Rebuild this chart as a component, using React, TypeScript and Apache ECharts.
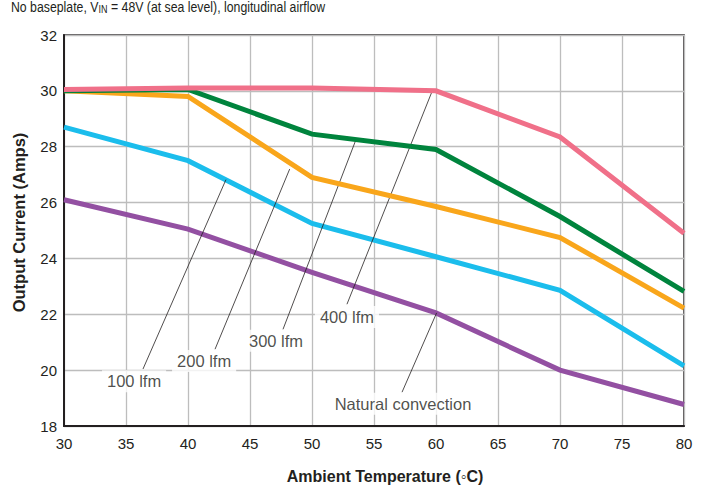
import React, { useEffect, useRef } from "react";
import * as echarts from "echarts";

// Data
const temperatures = [30, 40, 50, 60, 70, 80];
const seriesNames = ["Natural convection", "100 lfm", "200 lfm", "300 lfm", "400 lfm"];
const naturalConvection = [26.1, 25.05, 23.5, 22.05, 20.0, 18.77];
const lfm100 = [28.7, 27.5, 25.25, 24.06, 22.86, 20.15];
const lfm200 = [30.0, 29.8, 26.9, 25.86, 24.75, 22.22];
const lfm300 = [30.0, 30.05, 28.45, 27.9, 25.5, 22.82];
const lfm400 = [30.05, 30.1, 30.1, 30.0, 28.35, 24.9];
const seriesColors = ["#9350a2", "#1bbdec", "#f9a61b", "#00843d", "#f07089"];

const xTicks = { min: 30, max: 80, interval: 5 };
const yTicks = { min: 18, max: 32, interval: 2 };

// Annotation labels (data coordinates) and their leader lines
const annotationTexts = ["100 lfm", "200 lfm", "300 lfm", "400 lfm", "Natural convection"];
const annotationAnchors = [
  [35.65, 19.6],
  [41.3, 20.33],
  [47.1, 21.05],
  [52.82, 21.9],
  [57.34, 18.8],
];
const leaderStarts = [
  [36.37, 20.04],
  [42.18, 20.75],
  [47.66, 21.46],
  [52.82, 22.36],
  [57.26, 19.21],
];
const leaderEnds = [
  [43.06, 26.82],
  [48.2, 27.2],
  [53.5, 28.2],
  [59.7, 30.0],
  [60.05, 22.05],
];

const titleText = ["No baseplate, V", "IN", " = 48V (at sea level), longitudinal airflow"];
const xAxisTitle = "Ambient Temperature (◦C)";
const yAxisTitle = "Output Current (Amps)";

export default function App() {
  const ref = useRef<HTMLDivElement>(null);

  useEffect(() => {
    document.body.style.margin = "0";
    if (!ref.current) return;
    const chart = echarts.init(ref.current, undefined, { renderer: "svg" });
    const allValues = [naturalConvection, lfm100, lfm200, lfm300, lfm400];
    const textColor = "#231f20";
    const sans = "'Liberation Sans', Arial, sans-serif";

    const lineSeries = allValues.map((vals, i) => ({
      name: seriesNames[i],
      type: "line",
      data: temperatures.map((t, j) => [t, vals[j]]),
      showSymbol: false,
      symbol: "none",
      lineStyle: { color: seriesColors[i], width: 5, cap: "butt", join: "miter" },
      itemStyle: { color: seriesColors[i] },
      z: 3 + i,
      silent: true,
    }));

    chart.setOption({
      animation: false,
      graphic: [
        {
          type: "text",
          x: 11,
          y: -1,
          scaleX: 0.82,
          silent: true,
          style: {
            text: `{a|${titleText[0]}}{b|${titleText[1]}}{a|${titleText[2]}}`,
            x: 0,
            y: 0,
            verticalAlign: "top",
            align: "left",
            rich: {
              a: { fontFamily: sans, fontSize: 15, fill: textColor, color: textColor, verticalAlign: "bottom", lineHeight: 16 },
              b: { fontFamily: sans, fontSize: 11, fill: textColor, color: textColor, verticalAlign: "bottom", lineHeight: 16 },
            },
          },
        },
      ],
      grid: {
        left: 64,
        right: 27,
        top: 35,
        bottom: 62,
        show: true,
        borderColor: "#231f20",
        borderWidth: 1.5,
        backgroundColor: "#fff",
      },
      xAxis: {
        type: "value",
        min: xTicks.min,
        max: xTicks.max,
        interval: xTicks.interval,
        name: xAxisTitle,
        nameLocation: "middle",
        nameGap: 42,
        nameTextStyle: {
          fontFamily: sans,
          fontWeight: "bold",
          fontSize: 16,
          color: textColor,
          padding: [0, 0, 0, 22],
        },
        axisLine: { lineStyle: { color: "#231f20", width: 2 } },
        axisTick: { show: false },
        axisLabel: { fontFamily: sans, fontSize: 15, color: textColor, margin: 10 },
        splitLine: { show: true, lineStyle: { color: "#bdbdbd", width: 1.3 } },
      },
      yAxis: {
        type: "value",
        min: yTicks.min,
        max: yTicks.max,
        interval: yTicks.interval,
        name: yAxisTitle,
        nameLocation: "middle",
        nameGap: 37,
        nameTextStyle: {
          fontFamily: sans,
          fontWeight: "bold",
          fontSize: 16.5,
          color: textColor,
          padding: [0, 0, 0, 16],
        },
        axisLine: { show: true, lineStyle: { color: "#231f20", width: 2 } },
        axisTick: { show: false },
        axisLabel: { fontFamily: sans, fontSize: 15, color: textColor, margin: 7 },
        splitLine: { show: true, lineStyle: { color: "#bdbdbd", width: 1.3 } },
      },
      series: [
        {
          name: "leaders",
          type: "line",
          data: [],
          silent: true,
          z: 10,
          markLine: {
            silent: true,
            symbol: ["none", "none"],
            animation: false,
            label: { show: false },
            lineStyle: { color: "#231f20", width: 0.8, type: "solid" },
            data: leaderStarts.map((s, i) => [{ coord: s }, { coord: leaderEnds[i] }]),
          },
        },
        ...lineSeries,
        {
          name: "annotations",
          type: "scatter",
          symbolSize: 0,
          silent: true,
          z: 20,
          itemStyle: { color: "#ffffff" },
          data: annotationAnchors.map((p, i) => ({ value: p, name: annotationTexts[i] })),
          label: {
            show: true,
            position: "inside",
            formatter: (p: any) => p.name,
            fontFamily: sans,
            fontSize: 16.5,
            color: textColor,
            textBorderWidth: 0,
            textBorderColor: "transparent",
            backgroundColor: "#fff",
            padding: [3, 5, 2, 5],
          },
        },
      ],
    });

    return () => chart.dispose();
  }, []);

  return <div ref={ref} style={{ width: 711, height: 489 }} />;
}
